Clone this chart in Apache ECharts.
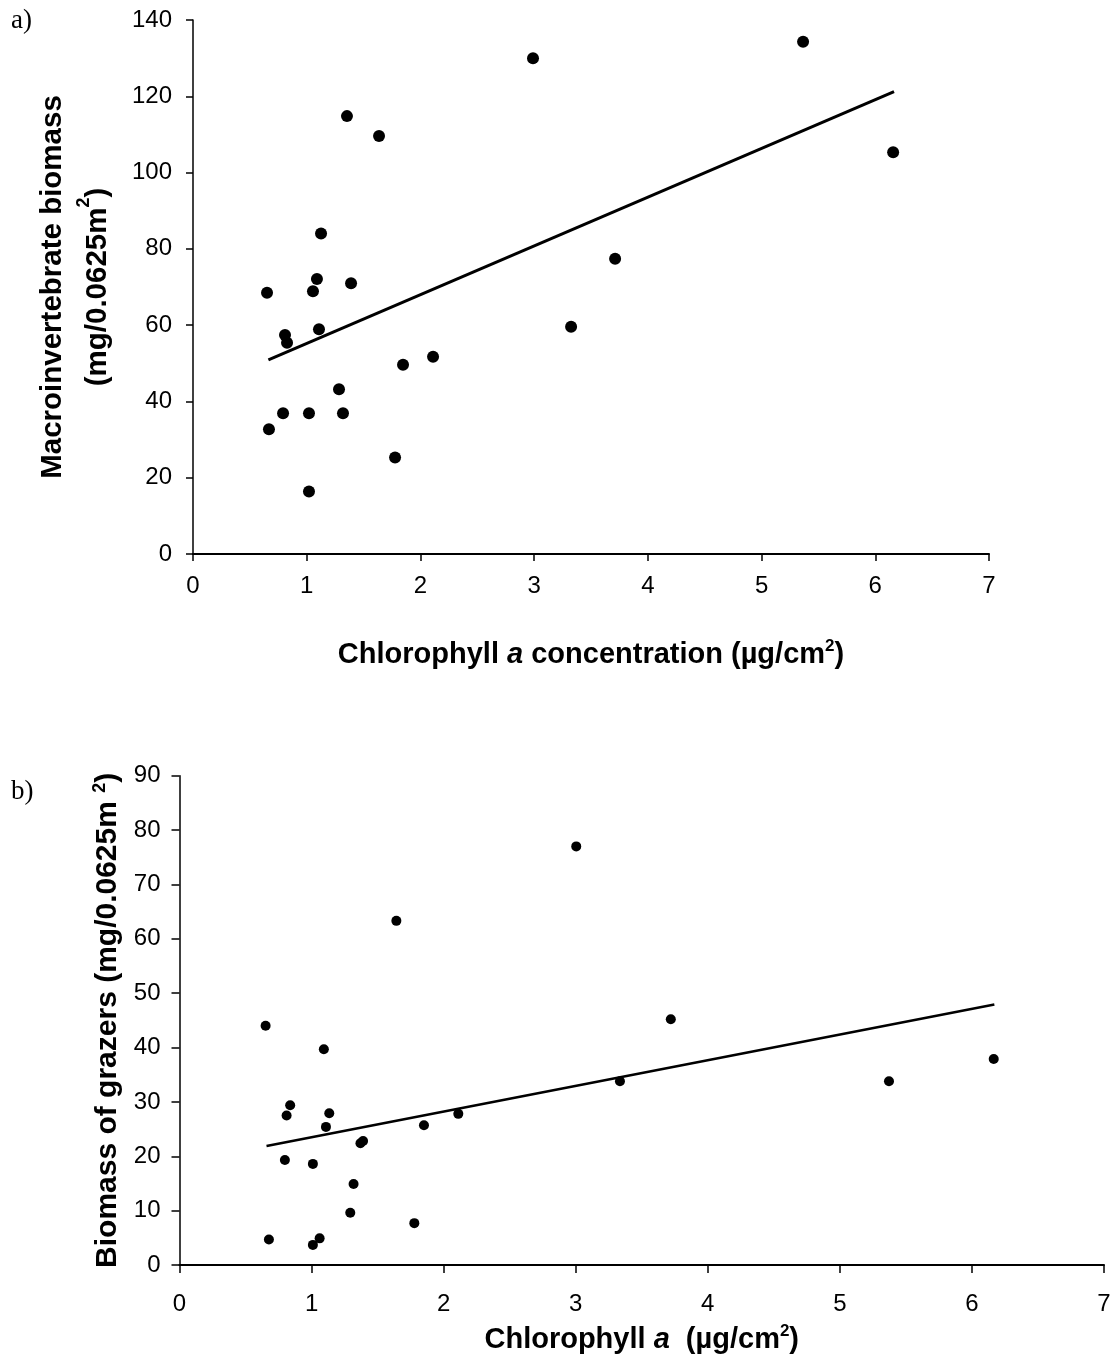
<!DOCTYPE html>
<html>
<head>
<meta charset="utf-8">
<script src="https://cdn.jsdelivr.net/npm/echarts@6/dist/echarts.min.js"></script>
<style>
  html, body { margin: 0; padding: 0; background: #fff; }
  #chart { width: 1115px; height: 1364px; }
</style>
</head>
<body>
<div id="chart"></div>
<script>
// Chlorophyll a concentration (µg/cm²), panel a
const chlA = [0.651, 0.668, 0.792, 0.809, 0.827, 1.02, 1.02, 1.055, 1.09, 1.108, 1.126, 1.284, 1.319, 1.354, 1.39, 1.636, 1.777, 1.847, 2.111, 2.99, 3.325, 3.712, 5.365, 6.157];
// Macroinvertebrate biomass (mg/0.0625m²), panel a
const macroBiomass = [68.5, 32.7, 36.9, 57.4, 55.4, 36.9, 16.4, 68.9, 72.1, 58.9, 84.0, 43.2, 36.9, 114.8, 71.0, 109.6, 25.3, 49.6, 51.7, 130.0, 59.6, 77.4, 134.3, 105.3];
// Trend line endpoints, panel a [x, y]
const trendAX = [0.663, 6.165];
const trendAY = [50.9, 121.2];

// Chlorophyll a (µg/cm²), panel b
const chlB = [0.652, 0.677, 0.798, 0.811, 0.838, 1.01, 1.01, 1.061, 1.093, 1.109, 1.134, 1.293, 1.318, 1.37, 1.39, 1.642, 1.778, 1.851, 2.111, 3.004, 3.335, 3.72, 5.372, 6.165];
// Biomass of grazers (mg/0.0625m²), panel b
const grazerBiomass = [44.0, 4.7, 19.3, 27.5, 29.4, 18.6, 3.7, 4.9, 39.7, 25.4, 27.9, 9.6, 14.9, 22.4, 22.8, 63.3, 7.7, 25.7, 27.8, 77.0, 33.8, 45.2, 33.8, 37.9];
// Trend line endpoints, panel b
const trendBX = [0.659, 6.17];
const trendBY = [21.9, 47.9];

// Axis ticks
const xTicks = [0, 1, 2, 3, 4, 5, 6, 7];
const yTicksA = [0, 20, 40, 60, 80, 100, 120, 140];
const yTicksB = [0, 10, 20, 30, 40, 50, 60, 70, 80, 90];

const FONT = 'Liberation Sans, Arial, sans-serif';
const pairs = (xs, ys) => xs.map((x, i) => [x, ys[i]]);

const tickLabel = { fontFamily: FONT, fontSize: 24, color: '#000' };
const titleRich = (size, lh) => ({
  b: { fontFamily: FONT, fontWeight: 'bold', fontSize: size, color: '#000', lineHeight: lh },
  i: { fontFamily: FONT, fontWeight: 'bold', fontStyle: 'italic', fontSize: size, color: '#000', lineHeight: lh },
  s: { fontFamily: FONT, fontWeight: 'bold', fontSize: Math.round(size * 0.6), color: '#000', lineHeight: Math.round(lh * 0.55), verticalAlign: 'top' }
});

const chart = echarts.init(document.getElementById('chart'), null, { renderer: 'canvas' });

const option = {
  backgroundColor: '#fff',
  animation: false,
  title: [
    { text: 'a)', left: 6, top: 2, textStyle: { fontFamily: 'Liberation Serif, Times New Roman, serif', fontWeight: 'normal', fontSize: 27, color: '#000' } },
    { text: 'b)', left: 6, top: 773, textStyle: { fontFamily: 'Liberation Serif, Times New Roman, serif', fontWeight: 'normal', fontSize: 27, color: '#000' } }
  ],
  grid: [
    { left: 193, top: 20, width: 796, height: 534 },
    { left: 179.5, top: 775.7, width: 924.5, height: 489.3 }
  ],
  xAxis: [
    {
      gridIndex: 0, type: 'value', min: xTicks[0], max: xTicks[xTicks.length - 1], interval: 1,
      axisLine: { lineStyle: { color: '#000', width: 2 } },
      axisTick: { length: 7, lineStyle: { color: '#000', width: 1.5 } },
      axisLabel: Object.assign({ margin: 20 }, tickLabel),
      splitLine: { show: false },
      name: '{b|Chlorophyll }{i|a}{b| concentration (µg/cm}{s|2}{b|)}',
      nameLocation: 'middle', nameGap: 84,
      nameTextStyle: { rich: titleRich(29, 34) }
    },
    {
      gridIndex: 1, type: 'value', min: xTicks[0], max: xTicks[xTicks.length - 1], interval: 1,
      axisLine: { lineStyle: { color: '#000', width: 2 } },
      axisTick: { length: 8, lineStyle: { color: '#000', width: 1.5 } },
      axisLabel: Object.assign({ margin: 27 }, tickLabel),
      splitLine: { show: false },
      name: '{b|Chlorophyll }{i|a}{b|  (µg/cm}{s|2}{b|)}',
      nameLocation: 'middle', nameGap: 58,
      nameTextStyle: { rich: titleRich(29, 34) }
    }
  ],
  yAxis: [
    {
      gridIndex: 0, type: 'value', min: yTicksA[0], max: yTicksA[yTicksA.length - 1], interval: 20,
      axisLine: { show: true, lineStyle: { color: '#000', width: 1.5 } },
      axisTick: { show: true, length: 7, lineStyle: { color: '#000', width: 1.5 } },
      axisLabel: Object.assign({ margin: 21 }, tickLabel),
      splitLine: { show: false },
      name: '{b|Macroinvertebrate biomass}\n{b|(mg/0.0625m}{s|2}{b|)}',
      nameLocation: 'middle', nameGap: 73,
      nameTextStyle: { rich: titleRich(29.5, 45) }
    },
    {
      gridIndex: 1, type: 'value', min: yTicksB[0], max: yTicksB[yTicksB.length - 1], interval: 10,
      axisLine: { show: true, lineStyle: { color: '#000', width: 1.5 } },
      axisTick: { show: true, length: 8, lineStyle: { color: '#000', width: 1.5 } },
      axisLabel: Object.assign({ margin: 19 }, tickLabel),
      splitLine: { show: false },
      name: '{b|Biomass of grazers (mg/0.0625m }{s|2}{b|)}',
      nameLocation: 'middle', nameGap: 54,
      nameTextStyle: { rich: titleRich(30, 34) }
    }
  ],
  series: [
    {
      type: 'scatter', xAxisIndex: 0, yAxisIndex: 0,
      data: pairs(chlA, macroBiomass),
      symbol: 'circle', symbolSize: 12,
      itemStyle: { color: '#000', opacity: 1 }, z: 3
    },
    {
      type: 'line', xAxisIndex: 0, yAxisIndex: 0,
      data: pairs(trendAX, trendAY),
      symbol: 'none', lineStyle: { color: '#000', width: 3 }, z: 2
    },
    {
      type: 'scatter', xAxisIndex: 1, yAxisIndex: 1,
      data: pairs(chlB, grazerBiomass),
      symbol: 'circle', symbolSize: 10,
      itemStyle: { color: '#000', opacity: 1 }, z: 3
    },
    {
      type: 'line', xAxisIndex: 1, yAxisIndex: 1,
      data: pairs(trendBX, trendBY),
      symbol: 'none', lineStyle: { color: '#000', width: 2.5 }, z: 2
    }
  ]
};

chart.setOption(option);
</script>
</body>
</html>
